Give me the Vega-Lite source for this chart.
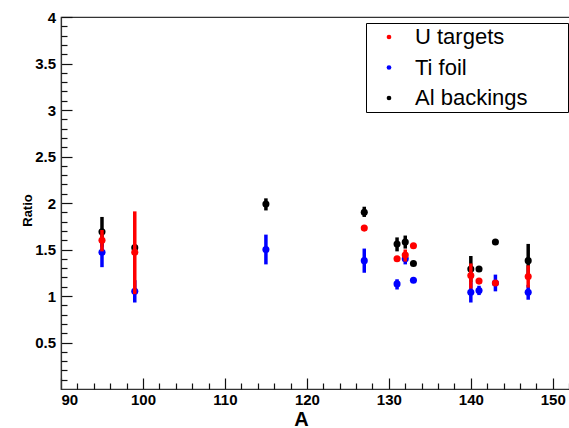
{
  "$schema": "https://vega.github.io/schema/vega-lite/v6.json",
  "autosize": "none",
  "padding": {"left": 61, "top": 17, "right": 0, "bottom": 39},
  "width": 509,
  "height": 372,
  "background": "white",
  "config": {
    "view": {"stroke": "#333", "strokeWidth": 1.2},
    "font": "Liberation Sans",
    "axis": {
      "grid": false,
      "ticks": true,
      "domainColor": "#333",
      "domainWidth": 1.2,
      "tickColor": "#111",
      "tickWidth": 1.2,
      "labelFont": "Liberation Sans",
      "labelFontWeight": "bold",
      "labelFontSize": 15,
      "labelColor": "#000",
      "labelOverlap": false,
      "titleFont": "Liberation Sans",
      "titleFontWeight": "bold",
      "titleColor": "#000"
    },
    "legend": {
      "orient": "none",
      "legendX": 305,
      "legendY": 6,
      "strokeColor": "#000",
      "fillColor": "#fff",
      "padding": 3,
      "symbolOffset": 9,
      "symbolSize": 22,
      "symbolType": "circle",
      "symbolStrokeWidth": 0,
      "labelFont": "Liberation Sans",
      "labelFontSize": 22,
      "labelColor": "#000",
      "labelOffset": 15,
      "rowPadding": 8.5
    }
  },
  "resolve": {"axis": {"x": "independent", "y": "independent"}},
  "data": {
    "values": [
      {"A": 95, "s": "Al backings", "v": 1.69, "lo": 1.53, "hi": 1.85},
      {"A": 99, "s": "Al backings", "v": 1.52, "lo": 1.49, "hi": 1.55},
      {"A": 115, "s": "Al backings", "v": 1.99, "lo": 1.92, "hi": 2.05},
      {"A": 127, "s": "Al backings", "v": 1.9, "lo": 1.85, "hi": 1.96},
      {"A": 131, "s": "Al backings", "v": 1.56, "lo": 1.48, "hi": 1.63},
      {"A": 132, "s": "Al backings", "v": 1.58, "lo": 1.51, "hi": 1.65},
      {"A": 133, "s": "Al backings", "v": 1.35, "lo": 1.33, "hi": 1.37},
      {"A": 140, "s": "Al backings", "v": 1.29, "lo": 1.15, "hi": 1.43},
      {"A": 141, "s": "Al backings", "v": 1.29, "lo": 1.27, "hi": 1.31},
      {"A": 143, "s": "Al backings", "v": 1.58, "lo": 1.56, "hi": 1.6},
      {"A": 147, "s": "Al backings", "v": 1.38, "lo": 1.2, "hi": 1.56},
      {"A": 95, "s": "Ti foil", "v": 1.47, "lo": 1.31, "hi": 1.63},
      {"A": 99, "s": "Ti foil", "v": 1.05, "lo": 0.93, "hi": 1.17},
      {"A": 115, "s": "Ti foil", "v": 1.5, "lo": 1.34, "hi": 1.66},
      {"A": 127, "s": "Ti foil", "v": 1.38, "lo": 1.25, "hi": 1.51},
      {"A": 131, "s": "Ti foil", "v": 1.13, "lo": 1.07, "hi": 1.18},
      {"A": 132, "s": "Ti foil", "v": 1.4, "lo": 1.34, "hi": 1.46},
      {"A": 133, "s": "Ti foil", "v": 1.17, "lo": 1.15, "hi": 1.19},
      {"A": 140, "s": "Ti foil", "v": 1.04, "lo": 0.93, "hi": 1.15},
      {"A": 141, "s": "Ti foil", "v": 1.06, "lo": 1.01, "hi": 1.11},
      {"A": 143, "s": "Ti foil", "v": 1.14, "lo": 1.05, "hi": 1.23},
      {"A": 147, "s": "Ti foil", "v": 1.04, "lo": 0.96, "hi": 1.12},
      {"A": 95, "s": "U targets", "v": 1.6, "lo": 1.48, "hi": 1.71},
      {"A": 99, "s": "U targets", "v": 1.47, "lo": 1.02, "hi": 1.91},
      {"A": 127, "s": "U targets", "v": 1.73, "lo": 1.71, "hi": 1.75},
      {"A": 131, "s": "U targets", "v": 1.4, "lo": 1.38, "hi": 1.42},
      {"A": 132, "s": "U targets", "v": 1.44, "lo": 1.37, "hi": 1.5},
      {"A": 133, "s": "U targets", "v": 1.54, "lo": 1.52, "hi": 1.56},
      {"A": 140, "s": "U targets", "v": 1.22, "lo": 1.08, "hi": 1.35},
      {"A": 141, "s": "U targets", "v": 1.16, "lo": 1.14, "hi": 1.18},
      {"A": 143, "s": "U targets", "v": 1.14, "lo": 1.12, "hi": 1.16},
      {"A": 147, "s": "U targets", "v": 1.21, "lo": 1.09, "hi": 1.33}
    ]
  },
  "encoding": {
    "x": {
      "field": "A",
      "type": "quantitative",
      "scale": {"domain": [90, 152.1], "nice": false, "zero": false},
      "axis": null
    },
    "y": {
      "field": "v",
      "type": "quantitative",
      "scale": {"domain": [0, 4], "nice": false, "zero": false},
      "axis": null
    },
    "color": {
      "field": "s",
      "type": "nominal",
      "scale": {"domain": ["U targets", "Ti foil", "Al backings"], "range": ["#ff0000", "#0000ff", "#000000"]},
      "legend": {"title": "\u00a0\u00a0", "titleOrient": "right", "titleFontSize": 14, "titlePadding": 37}
    }
  },
  "layer": [
    {
      "mark": {"type": "point", "opacity": 0},
      "encoding": {
        "color": {"value": "white"},
        "x": {
          "field": "A",
          "type": "quantitative",
          "axis": {
            "orient": "bottom",
            "title": "A",
            "titleFontSize": 20,
            "titleX": 240,
            "titleY": 36,
            "titleBaseline": "alphabetic",
            "titleAnchor": "middle",
            "values": [90, 100, 110, 120, 130, 140, 150],
            "tickSize": -11,
            "labelPadding": 14,
            "format": "d"
          }
        },
        "y": {
          "field": "v",
          "type": "quantitative",
          "axis": {
            "orient": "left",
            "title": "Ratio",
            "titleFontSize": 13,
            "titleX": -34,
            "titleY": 193,
            "titleAngle": -90,
            "titleAlign": "center",
            "titleBaseline": "middle",
            "values": [0.5, 1, 1.5, 2, 2.5, 3, 3.5, 4],
            "tickSize": -11,
            "labelPadding": 16.5,
            "format": "~g"
          }
        }
      }
    },
    {
      "mark": {"type": "point", "opacity": 0},
      "encoding": {
        "color": {"value": "white"},
        "x": {
          "field": "A",
          "type": "quantitative",
          "axis": {
            "orient": "bottom",
            "title": null,
            "domain": false,
            "labels": false,
            "values": [92, 94, 96, 98, 102, 104, 106, 108, 112, 114, 116, 118, 122, 124, 126, 128, 132, 134, 136, 138, 142, 144, 146, 148, 152],
            "tickSize": -6
          }
        },
        "y": {
          "field": "v",
          "type": "quantitative",
          "axis": {
            "orient": "left",
            "title": null,
            "domain": false,
            "labels": false,
            "values": [0.1, 0.2, 0.3, 0.4, 0.6, 0.7, 0.8, 0.9, 1.1, 1.2, 1.3, 1.4, 1.6, 1.7, 1.8, 1.9, 2.1, 2.2, 2.3, 2.4, 2.6, 2.7, 2.8, 2.9, 3.1, 3.2, 3.3, 3.4, 3.6, 3.7, 3.8, 3.9],
            "tickSize": -6
          }
        }
      }
    },
    {"transform": [{"filter": "datum.s == 'Al backings'"}], "mark": {"type": "rule", "strokeWidth": 3.5}, "encoding": {"y": {"field": "lo", "type": "quantitative", "axis": null}, "y2": {"field": "hi"}}},
    {"transform": [{"filter": "datum.s == 'Al backings'"}], "mark": {"type": "circle", "size": 50, "opacity": 1}},
    {"transform": [{"filter": "datum.s == 'Ti foil'"}], "mark": {"type": "rule", "strokeWidth": 3.5}, "encoding": {"y": {"field": "lo", "type": "quantitative", "axis": null}, "y2": {"field": "hi"}}},
    {"transform": [{"filter": "datum.s == 'Ti foil'"}], "mark": {"type": "circle", "size": 50, "opacity": 1}},
    {"transform": [{"filter": "datum.s == 'U targets'"}], "mark": {"type": "rule", "strokeWidth": 3.5}, "encoding": {"y": {"field": "lo", "type": "quantitative", "axis": null}, "y2": {"field": "hi"}}},
    {"transform": [{"filter": "datum.s == 'U targets'"}], "mark": {"type": "circle", "size": 50, "opacity": 1}}
  ]
}
